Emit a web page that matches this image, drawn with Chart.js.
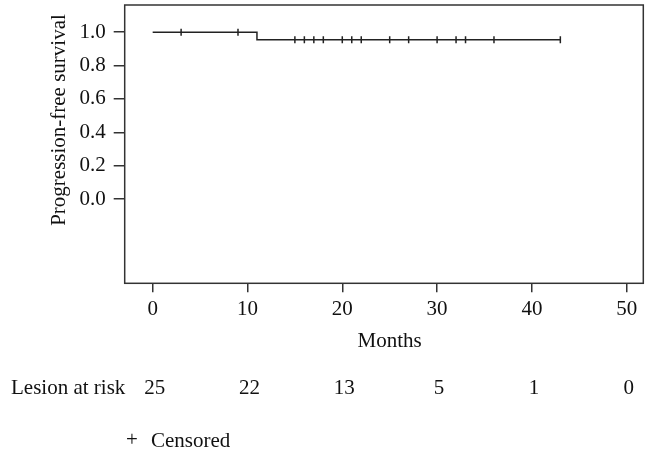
<!DOCTYPE html>
<html>
<head>
<meta charset="utf-8">
<script src="https://cdn.jsdelivr.net/npm/chart.js@4"></script>
<style>
  html, body { margin: 0; padding: 0; background: #fff; }
  canvas { display: block; }
</style>
</head>
<body>
<canvas id="c" width="661" height="453"></canvas>
<script>
// ---- data ----
const stepTimes = [0, 11, 43];
const stepSurvival = [1.0, 0.955, 0.955];
const censorTimes = [3, 9, 15, 16, 17, 18, 20, 21, 22, 25, 27, 30, 32, 33, 36, 43];
const censorSurvival = [1.0, 1.0, 0.955, 0.955, 0.955, 0.955, 0.955, 0.955, 0.955, 0.955, 0.955, 0.955, 0.955, 0.955, 0.955, 0.955];
const xTickValues = [0, 10, 20, 30, 40, 50];
const yTickValues = [0.0, 0.2, 0.4, 0.6, 0.8, 1.0];
const riskTimes = [0, 10, 20, 30, 40, 50];
const riskCounts = [25, 22, 13, 5, 1, 0];
const xTitle = 'Months';
const yTitle = 'Progression-free survival';
const riskLabel = 'Lesion at risk';
const legendLabel = 'Censored';

const FONT = '"Liberation Serif", "Times New Roman", serif';
const FS = 21;
const INK = '#222';

const extras = {
  id: 'extras',
  afterDraw(chart) {
    const ctx = chart.ctx;
    const a = chart.chartArea;
    const xs = chart.scales.x;
    ctx.save();
    // box
    ctx.strokeStyle = '#333';
    ctx.lineWidth = 1.5;
    ctx.strokeRect(a.left, a.top, a.right - a.left, a.bottom - a.top);
    ctx.fillStyle = '#111';
    ctx.font = FS + 'px ' + FONT;
    // x title
    ctx.textAlign = 'center';
    ctx.textBaseline = 'middle';
    ctx.fillText(xTitle, xs.getPixelForValue(25), 341);
    // y title
    ctx.save();
    ctx.translate(59, 120);
    ctx.rotate(-Math.PI / 2);
    ctx.fillText(yTitle, 0, 0);
    ctx.restore();
    // risk table
    ctx.textAlign = 'left';
    ctx.fillText(riskLabel, 11, 388);
    ctx.textAlign = 'center';
    riskTimes.forEach((t, i) => {
      ctx.fillText(String(riskCounts[i]), xs.getPixelForValue(t) + 2, 388);
    });
    // legend
    ctx.fillText('+', 132, 440);
    ctx.textAlign = 'left';
    ctx.fillText(legendLabel, 151, 441);
    ctx.restore();
  }
};

new Chart(document.getElementById('c'), {
  data: {
    datasets: [
      {
        type: 'line',
        data: stepTimes.map((t, i) => ({ x: t, y: stepSurvival[i] })),
        stepped: true,
        borderColor: INK,
        borderWidth: 1.5,
        pointRadius: 0,
        fill: false
      },
      {
        type: 'scatter',
        data: censorTimes.map((t, i) => ({ x: t, y: censorSurvival[i] })),
        pointStyle: 'line',
        rotation: 90,
        pointRadius: 3.5,
        borderColor: INK,
        borderWidth: 1.5,
        showLine: false
      }
    ]
  },
  options: {
    responsive: false,
    animation: false,
    events: [],
    layout: { autoPadding: false, padding: { top: 5, right: 17.7, left: 0, bottom: 0 } },
    plugins: { legend: { display: false }, tooltip: { enabled: false } },
    scales: {
      x: {
        type: 'linear',
        min: -2.95,
        max: 51.75,
        afterBuildTicks: s => { s.ticks = xTickValues.map(v => ({ value: v })); },
        afterFit: s => { s.height = 169.7; s.paddingLeft = 0; s.paddingRight = 0; },
        grid: { drawOnChartArea: false, drawTicks: true, tickLength: 9, color: '#333', lineWidth: 1.5 },
        border: { display: false },
        ticks: { color: '#111', font: { family: FONT, size: FS }, padding: 5, maxRotation: 0, autoSkip: false,
                 callback: v => String(v) }
      },
      y: {
        type: 'linear',
        min: -0.505,
        max: 1.163,
        afterBuildTicks: s => { s.ticks = yTickValues.map(v => ({ value: v })); },
        afterFit: s => { s.width = 124.7; s.paddingTop = 0; s.paddingBottom = 0; },
        grid: { drawOnChartArea: false, drawTicks: true, tickLength: 11, color: '#333', lineWidth: 1.5 },
        border: { display: false },
        ticks: { color: '#111', font: { family: FONT, size: FS }, padding: 8, autoSkip: false,
                 callback: v => Number(v).toFixed(1) }
      }
    }
  },
  plugins: [extras]
});
</script>
</body>
</html>
